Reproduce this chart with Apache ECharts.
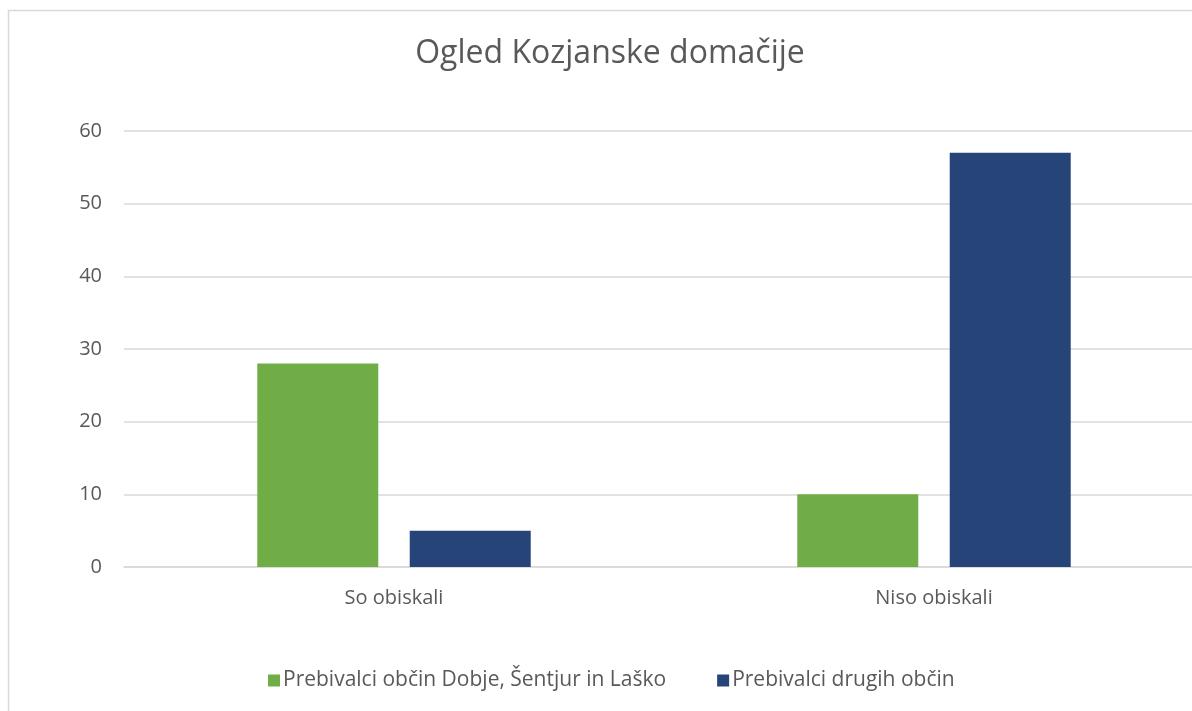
<!DOCTYPE html>
<html><head><meta charset="utf-8">
<script src="https://cdn.jsdelivr.net/npm/echarts@6/dist/echarts.min.js"></script>
<style>html,body{margin:0;padding:0;background:#fff;overflow:hidden}#c{width:1220px;height:711px}</style>
</head><body><div id="c"></div>
<script>
const titleText = 'Ogled Kozjanske domačije';
const categories = ['So obiskali', 'Niso obiskali'];
const seriesNames = ['Prebivalci občin Dobje, Šentjur in Laško', 'Prebivalci drugih občin'];
const localValues = [28, 10];
const otherValues = [5, 57];
const yTicks = [0, 10, 20, 30, 40, 50, 60];

const font = '"Open Sans", sans-serif';
const chart = echarts.init(document.getElementById('c'), null, {renderer: 'canvas'});
chart.setOption({
  backgroundColor: '#fff',
  animation: false,
  textStyle: {fontFamily: font},
  graphic: [{
    type: 'rect', shape: {x: 8.5, y: 10.5, width: 1230, height: 760},
    style: {fill: 'none', stroke: '#D9D9D9', lineWidth: 1.5}, z: -10, silent: true
  }],
  title: {
    text: titleText, left: 605, top: 33, textAlign: 'center',
    textStyle: {fontFamily: font, fontSize: 32, fontWeight: 'normal', color: '#595959'}
  },
  legend: {
    data: seriesNames, top: 665, left: 263,
    itemWidth: 12, itemHeight: 12, itemGap: 51, icon: 'rect',
    textStyle: {fontFamily: font, fontSize: 21, color: '#595959', padding: [0, 0, 0, -2]}
  },
  grid: {left: 124, top: 131, width: 1080, bottom: 144, containLabel: false},
  xAxis: {
    type: 'category', data: categories,
    axisLine: {show: true, lineStyle: {color: '#D9D9D9', width: 1.5}},
    axisTick: {show: false},
    axisLabel: {fontFamily: font, fontSize: 20, color: '#595959', margin: 21}
  },
  yAxis: {
    type: 'value', min: yTicks[0], max: yTicks[yTicks.length - 1], interval: 10,
    axisLine: {show: false}, axisTick: {show: false},
    splitLine: {lineStyle: {color: '#D9D9D9', width: 1.5}},
    axisLabel: {fontFamily: font, fontSize: 20, color: '#595959', margin: 22}
  },
  series: [
    {name: seriesNames[0], type: 'bar', data: localValues, barWidth: 121, barGap: '26%',
     itemStyle: {color: '#70AD47'}},
    {name: seriesNames[1], type: 'bar', data: otherValues, barWidth: 121,
     itemStyle: {color: '#264478'}}
  ]
});
</script></body></html>
